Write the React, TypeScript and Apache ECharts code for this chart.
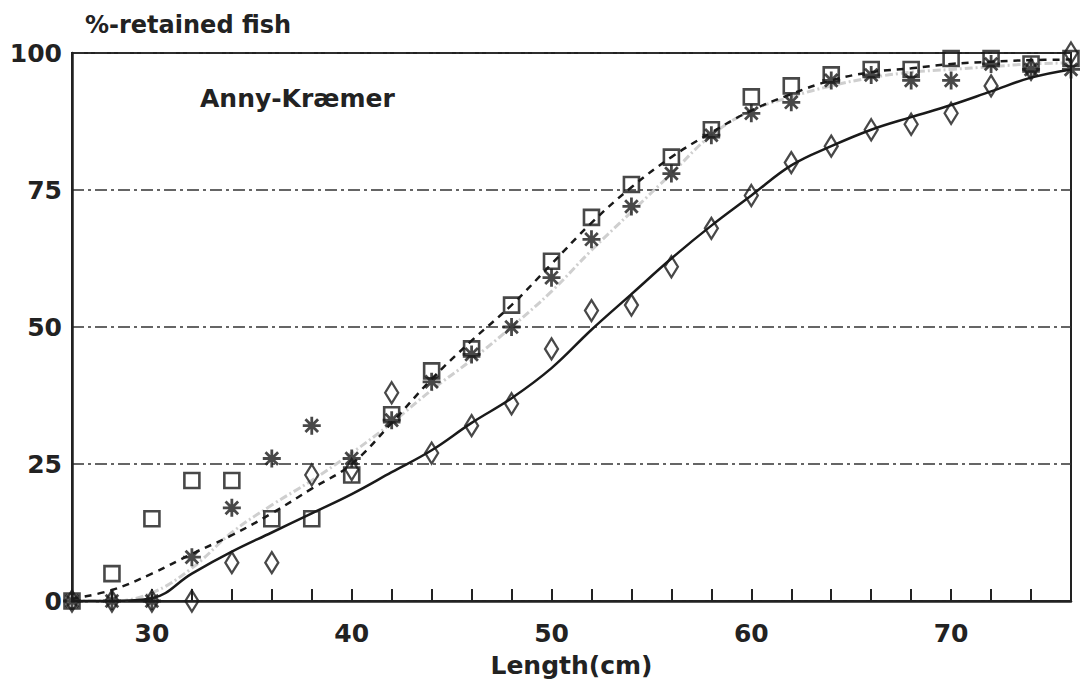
import React, { useEffect, useRef } from "react";
import * as echarts from "echarts";

const lengths = [26, 28, 30, 32, 34, 36, 38, 40, 42, 44, 46, 48, 50, 52, 54, 56, 58, 60, 62, 64, 66, 68, 70, 72, 74, 76];

const squareValues = [0, 5, 15, 22, 22, 15, 15, 23, 34, 42, 46, 54, 62, 70, 76, 81, 86, 92, 94, 96, 97, 97, 99, 99, 98, 99];
const starValues = [0, 0, 0, 8, 17, 26, 32, 26, 33, 40, 45, 50, 59, 66, 72, 78, 85, 89, 91, 95, 96, 95, 95, 98, 97, 97];
const diamondValues = [0, 0, 0, 0, 7, 7, 23, 24, 38, 27, 32, 36, 46, 53, 54, 61, 68, 74, 80, 83, 86, 87, 89, 94, 97, 100];

const solidCurve = [0, 0, 0.5, 5, 9, 12.5, 16, 19.5, 23.5, 27.5, 32.5, 37, 42.5, 49.5, 56, 62.5, 68.5, 74, 79.5, 83, 86, 88.3, 90.5, 93, 95.5, 97];
const dashedCurve = [0.4, 2, 5, 8.6, 12, 16, 20.5, 25, 32.5, 40.5, 47.5, 54, 61.5, 69, 75.5, 81, 85.5, 89.5, 92.5, 95, 96.5, 97.2, 98, 98.4, 98.7, 98.8];
const grayCurve = [0, 0, 1.5, 6, 12.5, 17.5, 22, 27, 32.5, 38.5, 44, 50, 56.5, 64, 71, 78, 85, 89.5, 92, 94, 95.5, 96.5, 97, 97.5, 98, 98.2];

const yTicks = [0, 25, 50, 75, 100];
const xLabelTicks = [30, 40, 50, 60, 70];

const FONT = "DejaVu Sans";
const INK = "#222";

const pairs = (vals: number[]) => lengths.map((x, i) => [x, vals[i]]);

export default function App() {
  const ref = useRef<HTMLDivElement>(null);
  useEffect(() => {
    if (!ref.current) return;
    const chart = echarts.init(ref.current, undefined, { renderer: "svg" });
    const hollow = "rgba(255,255,255,0)";
    chart.setOption({
      animation: false,
      backgroundColor: "#fff",
      title: {
        text: "%-retained fish",
        left: 80,
        top: 8,
        textStyle: { fontFamily: FONT, fontWeight: "bold", fontSize: 24, color: INK },
      },
      graphic: [
        {
          type: "text",
          left: 200,
          top: 86,
          style: { text: "Anny-Kræmer", font: `bold 25px "${FONT}"`, fill: INK },
        },
      ],
      grid: {
        left: 72,
        right: 16,
        top: 53,
        bottom: 85,
        show: true,
        borderColor: INK,
        borderWidth: 2,
        backgroundColor: "transparent",
      },
      xAxis: {
        type: "value",
        min: 26,
        max: 76,
        interval: 2,
        name: "Length(cm)",
        nameLocation: "middle",
        nameGap: 52,
        nameTextStyle: { fontFamily: FONT, fontWeight: "bold", fontSize: 25, color: INK },
        axisLine: { lineStyle: { color: INK, width: 2.5 } },
        axisTick: { show: true, inside: true, length: 12, lineStyle: { color: INK, width: 2 } },
        axisLabel: {
          margin: 20,
          fontFamily: FONT,
          fontWeight: "bold",
          fontSize: 25,
          color: INK,
          formatter: (v: number) => (xLabelTicks.includes(v) ? String(v) : ""),
        },
        splitLine: { show: false },
      },
      yAxis: {
        type: "value",
        min: 0,
        max: 100,
        interval: 25,
        axisLine: { show: true, lineStyle: { color: INK, width: 2.5 } },
        axisTick: { show: false },
        axisLabel: {
          margin: 10,
          fontFamily: FONT,
          fontWeight: "bold",
          fontSize: 25,
          color: INK,
          formatter: (v: number) => (yTicks.includes(v) ? String(v) : ""),
        },
        splitLine: {
          show: true,
          lineStyle: { color: "#333", width: 1.5, type: [12, 4, 3, 4] },
        },
      },
      series: [
        {
          type: "line",
          data: pairs(grayCurve),
          smooth: 0.4,
          showSymbol: false,
          lineStyle: { color: "#cfcfcf", width: 3, type: [8, 3, 2, 3] },
          z: 1,
        },
        {
          type: "line",
          data: pairs(dashedCurve),
          smooth: 0.4,
          showSymbol: false,
          lineStyle: { color: "#1a1a1a", width: 2.5, type: [7, 6] },
          z: 2,
        },
        {
          type: "line",
          data: pairs(solidCurve),
          smooth: 0.4,
          showSymbol: false,
          lineStyle: { color: "#1a1a1a", width: 2.5, type: "solid" },
          z: 2,
        },
        {
          type: "scatter",
          data: pairs(squareValues),
          symbol: "rect",
          symbolSize: 15,
          itemStyle: { color: hollow, borderColor: "#1a1a1a", borderWidth: 2.6 },
          z: 3,
        },
        {
          type: "scatter",
          data: pairs(starValues),
          symbol: "path://M10,0L10,20M0,10L20,10M3,3L17,17M3,17L17,3",
          symbolSize: 18,
          itemStyle: { color: hollow, borderColor: "#1a1a1a", borderWidth: 2.8 },
          z: 3,
        },
        {
          type: "scatter",
          data: pairs(diamondValues),
          symbol: "diamond",
          symbolSize: [13, 21],
          itemStyle: { color: hollow, borderColor: "#1a1a1a", borderWidth: 2.4 },
          z: 3,
        },
      ],
    });
    return () => chart.dispose();
  }, []);
  return (
    <div
      ref={ref}
      style={{ position: "fixed", left: 0, top: 0, width: 1087, height: 686, background: "#fff" }}
    />
  );
}
